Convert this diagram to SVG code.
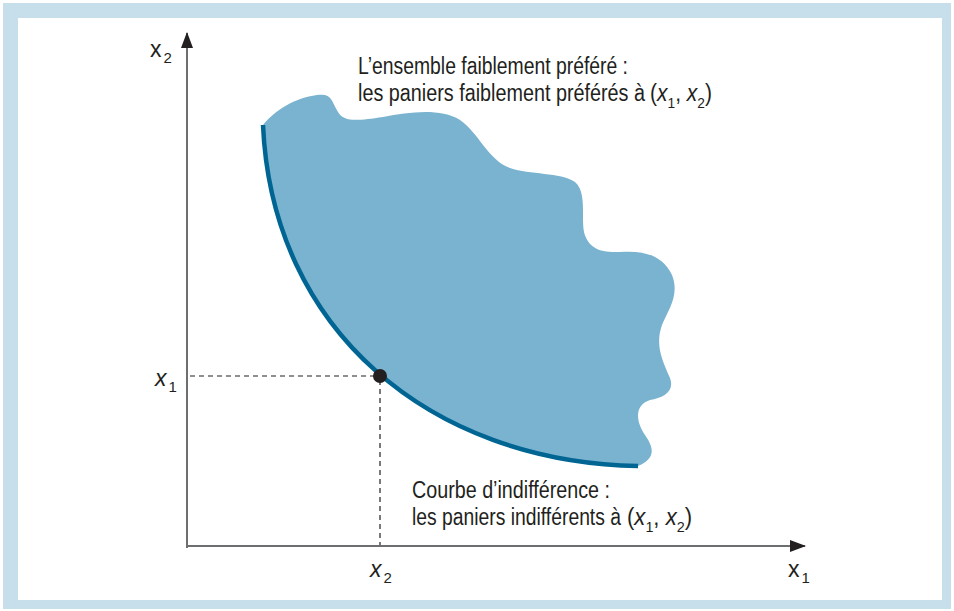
<svg xmlns="http://www.w3.org/2000/svg" width="954" height="611" viewBox="0 0 954 611">
<style>
.t{font-family:"Liberation Sans",Arial,sans-serif;font-size:23px;fill:#231f20}
.s{font-family:"Liberation Sans",Arial,sans-serif;font-size:15px;fill:#231f20}
.i{font-style:italic}
.axis{stroke:#6d6e70;stroke-width:2;fill:none}
.dash{stroke:#231f20;stroke-width:1.2;stroke-dasharray:5,4;fill:none}
</style>
<defs>
<marker id="ah" markerWidth="16" markerHeight="12" refX="15" refY="6" orient="auto" markerUnits="userSpaceOnUse">
<path d="M0,0 L16,6 L0,12 Z" fill="#231f20"/>
</marker>
</defs>
<rect x="3" y="3" width="948" height="606" fill="#c6dfeb"/>
<rect x="18" y="18" width="924" height="582" fill="#ffffff"/>
<g id="region">
<path d="M263,125 C275,110 295,98 317,95 C332,93 331,100 338,112 C344,122 356,121 383,117 C410,112 440,108 460,120 C478,132 488,160 510,168 C530,175 560,172 575,182 C587,192 581,218 584,232 C588,248 600,253 620,252 C645,250 663,256 672,275 C680,295 668,310 662,325 C655,345 662,360 670,378 C675,392 663,398 650,400 C635,405 635,420 645,435 C654,448 656,458 638,466 C430,462 272,330 263,125 Z" fill="#7ab3d0"/>
</g>
<g id="connectors">
<line class="axis" x1="187" y1="548" x2="187" y2="33" marker-end="url(#ah)"/>
<line class="axis" x1="186" y1="546" x2="805" y2="546" marker-end="url(#ah)"/>
<line class="dash" x1="190" y1="376" x2="376" y2="376"/>
<line class="dash" x1="380" y1="380" x2="380" y2="545"/>
</g>
<g id="curve">
<path d="M263,125 C272,330 430,462 638,466" fill="none" stroke="#006593" stroke-width="4.5"/>
</g>
<g id="point">
<circle cx="380" cy="376" r="7" fill="#231f20"/>
</g>
<g id="label-preferred">
<text class="t" x="358" y="74" textLength="270" lengthAdjust="spacingAndGlyphs">L’ensemble faiblement préféré :</text>
<text class="t" x="358" y="101" textLength="287" lengthAdjust="spacingAndGlyphs">les paniers faiblement préférés à</text>
<text class="t" x="650" y="101" textLength="62" lengthAdjust="spacingAndGlyphs">(<tspan class="i">x</tspan><tspan font-size="15" dy="7">1</tspan><tspan dy="-7">, </tspan><tspan class="i">x</tspan><tspan font-size="15" dy="7">2</tspan><tspan dy="-7">)</tspan></text>
</g>
<g id="label-indifference">
<text class="t" x="412" y="498" textLength="198" lengthAdjust="spacingAndGlyphs">Courbe d’indifférence :</text>
<text class="t" x="412" y="525" textLength="209" lengthAdjust="spacingAndGlyphs">les paniers indifférents à</text>
<text class="t" x="627" y="525" textLength="65" lengthAdjust="spacingAndGlyphs">(<tspan class="i">x</tspan><tspan font-size="15" dy="7">1</tspan><tspan dy="-7">, </tspan><tspan class="i">x</tspan><tspan font-size="15" dy="7">2</tspan><tspan dy="-7">)</tspan></text>
</g>
<g id="axis-labels">
<text class="t" x="150" y="57">x<tspan font-size="15" dy="6" dx="2">2</tspan></text>
<text class="t" x="155" y="386"><tspan class="i">x</tspan><tspan font-size="15" dy="6" dx="2">1</tspan></text>
<text class="t" x="370" y="577"><tspan class="i">x</tspan><tspan font-size="15" dy="6" dx="2">2</tspan></text>
<text class="t" x="788" y="577">x<tspan font-size="15" dy="6" dx="2">1</tspan></text>
</g>
</svg>
